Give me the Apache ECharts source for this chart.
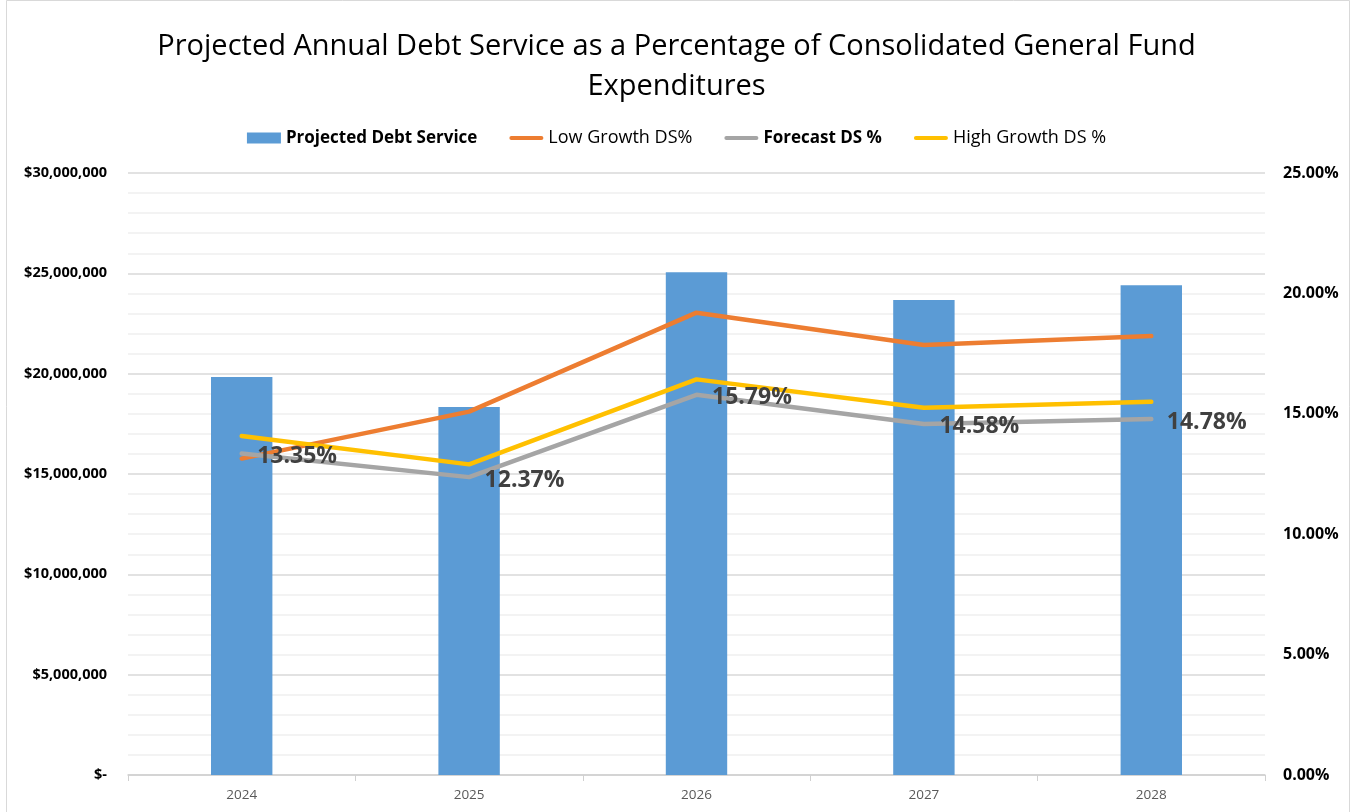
<!DOCTYPE html>
<html>
<head>
<meta charset="utf-8">
<script src="https://cdn.jsdelivr.net/npm/echarts@6/dist/echarts.min.js"></script>
<style>
html,body{margin:0;padding:0;background:#fff;}
#main{width:1353px;height:812px;}
</style>
</head>
<body>
<div id="main"></div>
<script>
const years = ['2024', '2025', '2026', '2027', '2028'];
const debtService = [19830000, 18340000, 25060000, 23670000, 24400000];
const lowGrowth = [13.14, 15.09, 19.20, 17.86, 18.23];
const forecast = [13.35, 12.37, 15.79, 14.58, 14.78];
const highGrowth = [14.08, 12.90, 16.43, 15.25, 15.50];
const titleText = 'Projected Annual Debt Service as a Percentage of Consolidated General Fund\nExpenditures';

const chart = echarts.init(document.getElementById('main'));
const font = 'Open Sans, Liberation Sans, sans-serif';
const lineIcon = 'path://M2,0 L32,0 A2,2 0 0 1 32,4 L2,4 A2,2 0 0 1 2,0 Z';
function money(v){
  if (v === 0) return '$-';
  return '$' + v.toLocaleString('en-US');
}
chart.setOption({
  backgroundColor: '#fff',
  animation: false,
  graphic: [{
    type: 'rect', shape: {x: 6.5, y: 0.5, width: 1343, height: 830},
    style: {fill: 'none', stroke: '#d9d9d9', lineWidth: 1}, silent: true
  }],
  title: {
    text: titleText, left: 'center', top: 22,
    textStyle: {fontFamily: font, fontSize: 29, fontWeight: 'normal', color: '#000', lineHeight: 40}
  },
  legend: {
    top: 124, left: 'center', itemGap: 32, itemWidth: 34, itemHeight: 11,
    textStyle: {fontFamily: font, fontSize: 17, color: '#000'},
    data: [
      {name: 'Projected Debt Service', icon: 'rect', textStyle: {fontWeight: 'bold', fontSize: 17}},
      {name: 'Low Growth DS%', icon: lineIcon, textStyle: {fontSize: 18}},
      {name: 'Forecast DS %', icon: lineIcon, textStyle: {fontWeight: 'bold', fontSize: 17}},
      {name: 'High Growth DS %', icon: lineIcon, textStyle: {fontSize: 18}}
    ]
  },
  grid: {left: 128, right: 88, top: 173, bottom: 37},
  xAxis: {
    type: 'category', data: years,
    axisLine: {lineStyle: {color: '#d0d0d0', width: 1.5}},
    axisTick: {show: true, length: 6, lineStyle: {color: '#d0d0d0'}},
    axisLabel: {fontFamily: font, fontSize: 13.5, color: '#595959', margin: 13}
  },
  yAxis: [{
    type: 'value', min: 0, max: 30000000, interval: 5000000,
    axisLabel: {formatter: money, fontFamily: font, fontSize: 14.5, fontWeight: 'bold', color: '#000', margin: 21},
    axisLine: {show: false}, axisTick: {show: false},
    splitLine: {lineStyle: {color: '#d9d9d9', width: 1.5}},
    minorTick: {show: false, splitNumber: 5},
    minorSplitLine: {show: true, lineStyle: {color: '#f0f0f0', width: 1.5}}
  }, {
    type: 'value', min: 0, max: 25, interval: 5, position: 'right',
    axisLabel: {formatter: v => v.toFixed(2) + '%', fontFamily: font, fontSize: 16, fontWeight: 'bold', color: '#000', margin: 18},
    axisLine: {show: false}, axisTick: {show: false}, splitLine: {show: false}
  }],
  series: [{
    name: 'Projected Debt Service', type: 'bar', data: debtService, yAxisIndex: 0,
    barWidth: '27%', itemStyle: {color: '#5b9bd5'}
  }, {
    name: 'Low Growth DS%', type: 'line', data: lowGrowth, yAxisIndex: 1,
    symbol: 'none', lineStyle: {color: '#ed7d31', width: 4.5, cap: 'round'}, itemStyle: {color: '#ed7d31'},
    z: 3
  }, {
    name: 'Forecast DS %', type: 'line', data: forecast, yAxisIndex: 1,
    symbol: 'circle', symbolSize: 1, showSymbol: true,
    lineStyle: {color: '#a5a5a5', width: 4.5, cap: 'round'}, itemStyle: {color: '#a5a5a5'},
    label: {
      show: true, position: 'right', distance: 15, offset: [0, 3],
      formatter: p => p.value.toFixed(2) + '%',
      fontFamily: font, fontSize: 23, fontWeight: 'bold', color: '#404040'
    },
    z: 5
  }, {
    name: 'High Growth DS %', type: 'line', data: highGrowth, yAxisIndex: 1,
    symbol: 'none', lineStyle: {color: '#ffc000', width: 4.5, cap: 'round'}, itemStyle: {color: '#ffc000'},
    z: 4
  }]
});
</script>
</body>
</html>
